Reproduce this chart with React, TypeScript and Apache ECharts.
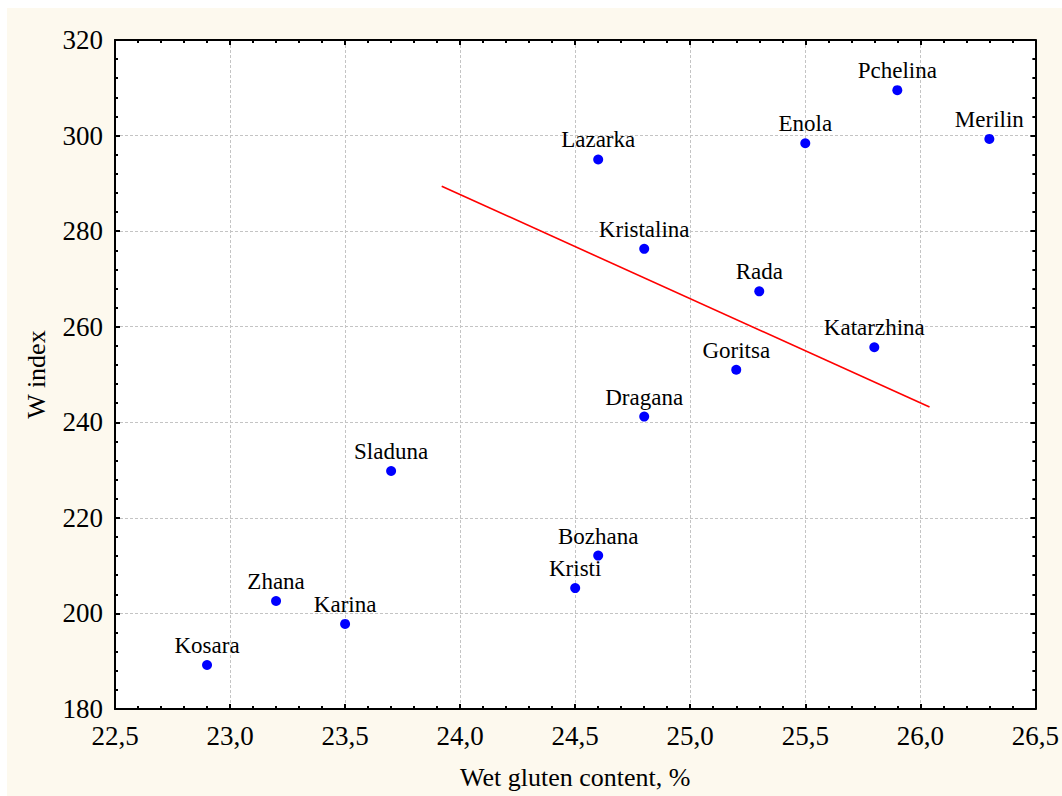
import React, { useEffect, useRef } from "react";
import * as echarts from "echarts";

const varieties = ["Kosara", "Zhana", "Karina", "Sladuna", "Kristi", "Bozhana", "Dragana", "Kristalina", "Lazarka", "Goritsa", "Rada", "Enola", "Katarzhina", "Pchelina", "Merilin"];
const glutenValues = [22.9, 23.2, 23.5, 23.7, 24.5, 24.6, 24.8, 24.8, 24.6, 25.2, 25.3, 25.5, 25.8, 25.9, 26.3];
const wIndexValues = [189.2, 202.6, 197.8, 229.8, 205.3, 212.1, 241.2, 276.3, 295.0, 251.0, 267.4, 298.4, 255.7, 309.5, 299.3];
const trendX = [23.92, 26.04];
const trendY = [289.4, 243.2];
const xTicks = { min: 22.5, max: 26.5, interval: 0.5 };
const yTicks = { min: 180, max: 320, interval: 20 };

const FONT = "Liberation Serif";

export default function App() {
  const ref = useRef<HTMLDivElement>(null);
  useEffect(() => {
    if (!ref.current) return;
    const chart = echarts.init(ref.current, null, { renderer: "svg" });
    const axisCommon = {
      axisLine: { show: true, onZero: false, lineStyle: { color: "#000", width: 2 } },
      axisTick: { show: true, inside: true, length: 5, lineStyle: { color: "#000", width: 2 } },
      minorTick: { show: true, splitNumber: 5, length: 3, lineStyle: { color: "#000", width: 2 } },
    };
    const fmtX = (v: number) => v.toFixed(1).replace(".", ",");
    chart.setOption({
      animation: false,
      backgroundColor: "#ffffff",
      textStyle: { fontFamily: FONT },
      graphic: [
        { type: "rect", z: -10, shape: { x: 7, y: 8, width: 1062, height: 796 }, style: { fill: "#fdf9ee" } },
      ],
      grid: { left: 115, top: 40, right: 25, bottom: 87, show: true, backgroundColor: "#ffffff", borderWidth: 0 },
      xAxis: [
        {
          type: "value",
          position: "bottom",
          ...xTicks,
          ...axisCommon,
          name: "Wet gluten content, %",
          nameLocation: "middle",
          nameGap: 55,
          nameTextStyle: { fontFamily: FONT, fontSize: 26, color: "#000" },
          axisLabel: { fontFamily: FONT, fontSize: 27, color: "#000", margin: 13, formatter: fmtX },
          splitLine: { show: true, lineStyle: { color: "#c4c4c4", type: [3, 2], width: 1 } },
        },
        {
          type: "value",
          position: "top",
          ...xTicks,
          ...axisCommon,
          axisLabel: { show: false },
          splitLine: { show: false },
        },
      ],
      yAxis: [
        {
          type: "value",
          position: "left",
          ...yTicks,
          ...axisCommon,
          name: "W index",
          nameLocation: "middle",
          nameGap: 66,
          nameTextStyle: { fontFamily: FONT, fontSize: 26, color: "#000" },
          axisLabel: { fontFamily: FONT, fontSize: 27, color: "#000", margin: 12 },
          splitLine: { show: true, lineStyle: { color: "#c4c4c4", type: [3, 2], width: 1 } },
        },
        {
          type: "value",
          position: "right",
          ...yTicks,
          ...axisCommon,
          axisLabel: { show: false },
          splitLine: { show: false },
        },
      ],
      series: [
        {
          type: "line",
          data: trendX.map((x, i) => [x, trendY[i]]),
          symbol: "none",
          lineStyle: { color: "#ff0000", width: 1.6 },
          z: 3,
          silent: true,
        },
        {
          type: "scatter",
          data: varieties.map((n, i) => ({ name: n, value: [glutenValues[i], wIndexValues[i]] })),
          symbolSize: 10,
          itemStyle: { color: "#0000ff", opacity: 1 },
          label: {
            show: true,
            position: "top",
            distance: 3,
            formatter: (p: any) => p.name,
            fontFamily: FONT,
            fontSize: 23,
            color: "#000",
          },
          z: 4,
        },
      ],
    });
    return () => chart.dispose();
  }, []);
  return <div ref={ref} style={{ position: "absolute", left: 0, top: 0, width: 1062, height: 796 }} />;
}
